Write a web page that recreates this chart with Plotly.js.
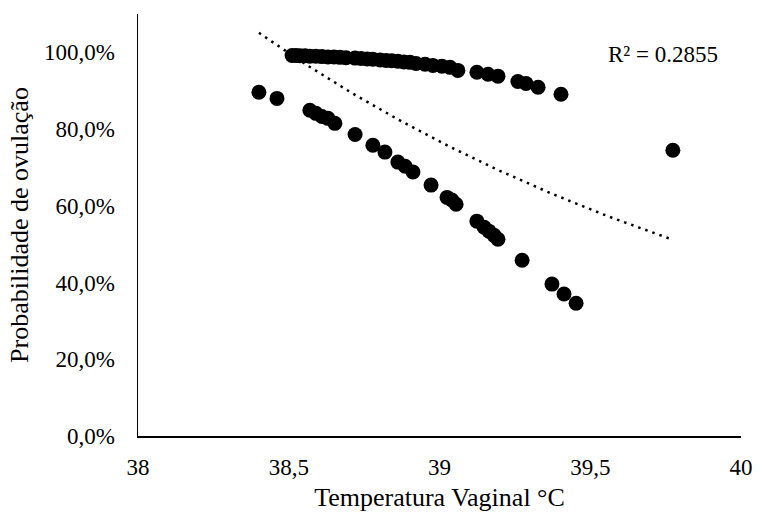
<!DOCTYPE html>
<html>
<head>
<meta charset="utf-8">
<script src="https://cdn.plot.ly/plotly-3.0.1.min.js"></script>
<style>html,body{margin:0;padding:0;background:#fff;}#chart{width:760px;height:516px;}</style>
</head>
<body>
<div id="chart"></div>
<script>
// Upper group: temperature (°C) and probability (fraction)
const tempHigh = [38.511,38.524,38.537,38.554,38.570,38.590,38.610,38.630,38.650,38.670,38.690,38.720,38.740,38.760,38.779,38.803,38.823,38.842,38.862,38.882,38.902,38.922,38.952,38.978,39.008,39.035,39.061,39.124,39.161,39.194,39.260,39.287,39.327,39.403];
const probHigh = [0.992,0.992,0.991,0.991,0.990,0.990,0.989,0.988,0.988,0.987,0.986,0.985,0.984,0.983,0.982,0.980,0.979,0.978,0.977,0.975,0.974,0.971,0.969,0.966,0.964,0.961,0.953,0.948,0.943,0.938,0.924,0.919,0.909,0.891];
// Lower group
const tempLow = [38.401,38.461,38.570,38.590,38.610,38.630,38.653,38.720,38.779,38.819,38.862,38.886,38.912,38.972,39.025,39.041,39.055,39.124,39.148,39.164,39.181,39.194,39.274,39.373,39.413,39.453];
const probLow = [0.896,0.880,0.849,0.841,0.833,0.828,0.815,0.786,0.758,0.740,0.714,0.703,0.688,0.654,0.622,0.615,0.604,0.560,0.544,0.534,0.523,0.513,0.458,0.396,0.370,0.346];
// Outlier
const tempOut = [39.774];
const probOut = [0.745];

const xTicks = [38, 38.5, 39, 39.5, 40];
const yTicks = [0, 0.2, 0.4, 0.6, 0.8, 1.0];
const r2Label = 'R² = 0.2855';

// Exponential trendline (Excel-style): ln(y) = ln(a) + b x
const allX = tempHigh.concat(tempLow, tempOut);
const allY = probHigh.concat(probLow, probOut);
const n = allX.length;
let sx=0, sy=0, sxx=0, sxy=0;
for (let i=0;i<n;i++){const lx=allX[i], ly=Math.log(allY[i]); sx+=lx; sy+=ly; sxx+=lx*lx; sxy+=lx*ly;}
const b = (n*sxy - sx*sy)/(n*sxx - sx*sx);
const lnA = (sy - b*sx)/n;
const xmin = Math.min(...allX), xmax = Math.max(...allX);
const trendX = [], trendY = [];
for (let i=0;i<=60;i++){const x = xmin + (xmax-xmin)*i/60; trendX.push(x); trendY.push(Math.exp(lnA + b*x));}

const fam = '"Liberation Serif", "Times New Roman", serif';
const tickFont = {family: fam, color: '#000', size: 23};
const titleFont = {family: fam, color: '#000', size: 26};
const marker = {color: '#000', size: 15, line: {width: 0}};

const traces = [
  {x: tempHigh, y: probHigh, type: 'scatter', mode: 'markers', marker: marker},
  {x: tempLow, y: probLow, type: 'scatter', mode: 'markers', marker: marker},
  {x: tempOut, y: probOut, type: 'scatter', mode: 'markers', marker: marker},
  {x: trendX, y: trendY, type: 'scatter', mode: 'lines', line: {color: '#000', width: 2.5, dash: '2.5px,5px'}}
];

const layout = {
  width: 760, height: 516,
  margin: {l: 138, r: 19, t: 14, b: 80},
  paper_bgcolor: '#fff', plot_bgcolor: '#fff',
  showlegend: false,
  separators: ',.',
  font: tickFont,
  xaxis: {
    range: [38, 40], tickvals: xTicks, showgrid: false, zeroline: false,
    showline: true, linecolor: '#000', linewidth: 1.5, ticks: '',
    ticklabelstandoff: 10,
    tickfont: tickFont,
    title: {text: 'Temperatura Vaginal °C', font: titleFont, standoff: 8}
  },
  yaxis: {
    range: [0, 1.1], tickvals: yTicks, tickformat: '.1%', showgrid: false, zeroline: false,
    showline: true, linecolor: '#000', linewidth: 1.5, ticks: '',
    ticklabelstandoff: 17,
    tickfont: tickFont,
    title: {text: 'Probabilidade de ovulação', font: titleFont, standoff: 8}
  },
  annotations: [{
    xref: 'paper', yref: 'paper', x: 0.965, y: 0.905, xanchor: 'right', yanchor: 'middle',
    text: r2Label, showarrow: false, font: {family: fam, color: '#000', size: 23}
  }]
};

Plotly.newPlot('chart', traces, layout, {displayModeBar: false, staticPlot: true});
</script>
</body>
</html>
